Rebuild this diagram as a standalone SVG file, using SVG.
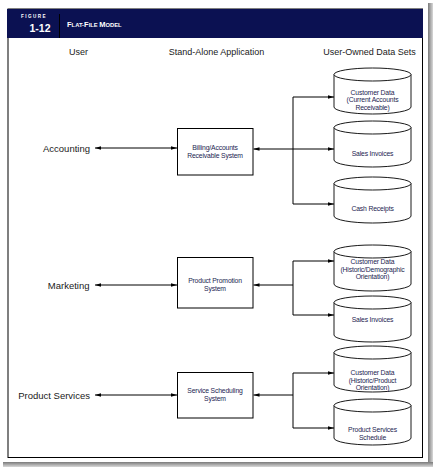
<svg xmlns="http://www.w3.org/2000/svg" width="435" height="469" viewBox="0 0 435 469">
<defs>
<style>
.lbl{font-family:"Liberation Sans",Arial,sans-serif;fill:#1a1a1a}
.hd{font-size:9px;text-anchor:middle}
.usr{font-size:9.5px;text-anchor:end}
.sm{font-family:"Liberation Sans",Arial,sans-serif;font-size:6.8px;fill:#1c2450;text-anchor:middle;letter-spacing:-0.15px}
.box{fill:#fff;stroke:#000;stroke-width:1}
.cyl{fill:#fff;stroke:#000;stroke-width:0.9}
.con{fill:none;stroke:#000;stroke-width:1}
.arr{marker-end:url(#ah)}
.arr2{marker-start:url(#ahs);marker-end:url(#ah)}
</style>
<marker id="ah" markerUnits="userSpaceOnUse" markerWidth="7" markerHeight="5" refX="6" refY="2.5" orient="auto">
<path d="M0,0.7 L6,2.5 L0,4.3 Z" fill="#000"/>
</marker>
<marker id="ahs" markerUnits="userSpaceOnUse" markerWidth="7" markerHeight="5" refX="0" refY="2.5" orient="auto">
<path d="M6,0.7 L0,2.5 L6,4.3 Z" fill="#000"/>
</marker>
<linearGradient id="shR" x1="0" y1="0" x2="1" y2="0">
<stop offset="0" stop-color="#7a7a7a"/><stop offset="1" stop-color="#d8d8d8"/>
</linearGradient>
<linearGradient id="shB" x1="0" y1="0" x2="0" y2="1">
<stop offset="0" stop-color="#7a7a7a"/><stop offset="1" stop-color="#d8d8d8"/>
</linearGradient>
<g id="cylshape">
<path class="cyl" d="M0,6.5 V39 A38.5,7 0 0 0 77,39 V6.5"/>
<ellipse class="cyl" cx="38.5" cy="6.5" rx="38.5" ry="6.5"/>
</g>
</defs>

<rect width="435" height="469" fill="#fff"/>
<!-- shadow -->
<rect x="428" y="3" width="5" height="464" fill="url(#shR)"/>
<rect x="3" y="462" width="430" height="5" fill="url(#shB)"/>

<!-- frame -->
<g id="frame">
<rect x="8" y="9" width="414.5" height="448.5" fill="#fff" stroke="#000" stroke-width="1"/>
<rect x="7" y="9" width="416" height="29" fill="#0b1152"/>
<line x1="59.5" y1="14" x2="59.5" y2="38" stroke="#000" stroke-width="1"/>
<text x="34" y="17.5" font-family="Liberation Sans,Arial,sans-serif" font-weight="bold" font-size="4.6" fill="#fff" text-anchor="middle" letter-spacing="1.4">FIGURE</text>
<text x="50.5" y="32" font-family="Liberation Sans,Arial,sans-serif" font-weight="bold" font-size="10.5" fill="#fff" text-anchor="end">1-12</text>
<text x="67" y="27" font-family="Liberation Sans,Arial,sans-serif" font-weight="bold" fill="#fff"><tspan font-size="7.5">F</tspan><tspan font-size="5.8">LAT-</tspan><tspan font-size="7.5">F</tspan><tspan font-size="5.8">ILE </tspan><tspan font-size="7.5">M</tspan><tspan font-size="5.8">ODEL</tspan></text>
</g>

<!-- column headers -->
<g id="headers">
<text class="lbl hd" x="78.5" y="55">User</text>
<text class="lbl hd" x="216.5" y="55">Stand-Alone Application</text>
<text class="lbl hd" x="369.5" y="55">User-Owned Data Sets</text>
</g>

<!-- users -->
<g id="user-accounting"><text class="lbl usr" x="90" y="151.5">Accounting</text></g>
<g id="user-marketing"><text class="lbl usr" x="89.5" y="288.5">Marketing</text></g>
<g id="user-productservices"><text class="lbl usr" x="90" y="398.5">Product Services</text></g>

<!-- connectors -->
<g id="connectors">
<line class="con arr2" x1="95" y1="148" x2="177" y2="148"/>
<line class="con arr2" x1="253.5" y1="149" x2="334" y2="149"/>
<polyline class="con arr" points="293,149 293,97 334,97"/>
<polyline class="con arr" points="293,149 293,204 334,204"/>

<line class="con arr2" x1="95" y1="285" x2="177" y2="285"/>
<line class="con arr" x1="293" y1="285" x2="253.5" y2="285"/>
<polyline class="con arr" points="293,285 293,261 334,261"/>
<polyline class="con arr" points="293,285 293,315 334,315"/>

<line class="con arr2" x1="95" y1="395" x2="177" y2="395"/>
<line class="con arr" x1="293" y1="395" x2="253.5" y2="395"/>
<polyline class="con arr" points="293,395 293,373 334,373"/>
<polyline class="con arr" points="293,395 293,428 334,428"/>
</g>

<!-- applications -->
<g id="app-billing">
<rect class="box" x="177.5" y="128.5" width="75.5" height="46.5"/>
<text class="sm" x="215" y="150">Billing/Accounts</text>
<text class="sm" x="215" y="157.5">Receivable System</text>
</g>
<g id="app-promotion">
<rect class="box" x="177.5" y="257.5" width="75.5" height="50.5"/>
<text class="sm" x="215" y="282.5">Product Promotion</text>
<text class="sm" x="215" y="290.5">System</text>
</g>
<g id="app-scheduling">
<rect class="box" x="177.5" y="372.5" width="75.5" height="45.5"/>
<text class="sm" x="215" y="392.5">Service Scheduling</text>
<text class="sm" x="215" y="400.5">System</text>
</g>

<!-- data sets -->
<g id="ds-customer-ar">
<use href="#cylshape" x="334" y="68"/>
<text class="sm" x="372.5" y="94.5">Customer Data</text>
<text class="sm" x="372.5" y="102">(Current Accounts</text>
<text class="sm" x="372.5" y="109.5">Receivable)</text>
</g>
<g id="ds-sales-1">
<use href="#cylshape" x="334" y="121"/>
<text class="sm" x="372.5" y="155.5">Sales Invoices</text>
</g>
<g id="ds-cash">
<use href="#cylshape" x="334" y="177"/>
<text class="sm" x="372.5" y="210.5">Cash Receipts</text>
</g>
<g id="ds-customer-demo">
<use href="#cylshape" x="334" y="245"/>
<text class="sm" x="372.5" y="264">Customer Data</text>
<text class="sm" x="372.5" y="271.5">(Historic/Demographic</text>
<text class="sm" x="372.5" y="279">Orientation)</text>
</g>
<g id="ds-sales-2">
<use href="#cylshape" x="334" y="296"/>
<text class="sm" x="372.5" y="321.5">Sales Invoices</text>
</g>
<g id="ds-customer-product">
<use href="#cylshape" x="334" y="346"/>
<text class="sm" x="372.5" y="374.5">Customer Data</text>
<text class="sm" x="372.5" y="382.5">(Historic/Product</text>
<text class="sm" x="372.5" y="390">Orientation)</text>
</g>
<g id="ds-schedule">
<use href="#cylshape" x="334" y="399"/>
<text class="sm" x="372.5" y="431.5">Product Services</text>
<text class="sm" x="372.5" y="439.5">Schedule</text>
</g>
</svg>
